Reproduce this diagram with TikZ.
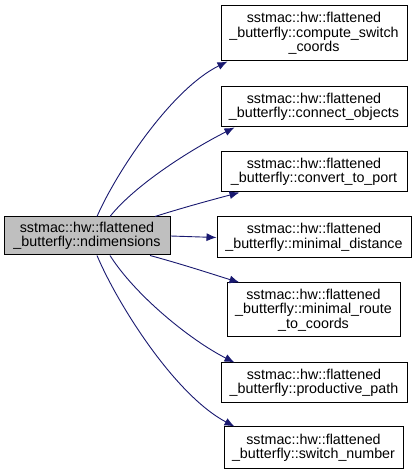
\documentclass[tikz,border=0pt]{standalone}
\usepackage{fontspec}
\setmainfont{Liberation Sans}
\usetikzlibrary{arrows.meta, positioning, calc}

\begin{document}
\begin{tikzpicture}[x=1pt, y=1pt,
    func/.style={rectangle, draw, line width=1pt, inner sep=0pt, align=center, font=\fontsize{14.3}{14.5}\selectfont},
    arrow/.style={-{Latex[length=10pt,width=8pt]}, line width=0.9pt, draw={rgb,255:red,25;green,25;blue,112}}]
    \useasboundingbox (0,0) rectangle (416,475);
    \node [func, fill={rgb,255:red,191;green,191;blue,191}, minimum width=166, minimum height=38] (nd) at (87,239) {sstmac::hw::flattened\\\_butterfly::ndimensions};
    \node [func, minimum width=186, minimum height=55] (csc) at (314,441.5) {sstmac::hw::flattened\\\_butterfly::compute\_switch\\\_coords};
    \node [func, minimum width=186, minimum height=40] (co) at (314,368) {sstmac::hw::flattened\\\_butterfly::connect\_objects};
    \node [func, minimum width=186, minimum height=40] (ctp) at (314,303) {sstmac::hw::flattened\\\_butterfly::convert\_to\_port};
    \node [func, minimum width=194, minimum height=41] (md) at (314,237.5) {sstmac::hw::flattened\\\_butterfly::minimal\_distance};
    \node [func, minimum width=173, minimum height=54] (mrc) at (313.5,165) {sstmac::hw::flattened\\\_butterfly::minimal\_route\\\_to\_coords};
    \node [func, minimum width=186, minimum height=40] (pp) at (314,92) {sstmac::hw::flattened\\\_butterfly::productive\_path};
    \node [func, minimum width=179, minimum height=42] (sn) at (313.5,27) {sstmac::hw::flattened\\\_butterfly::switch\_number};
    \draw [arrow] ([xshift=10]nd.north) .. controls (115,300) and (170,385) .. ([xshift=7]csc.south west);
    \draw [arrow] ([xshift=23]nd.north) .. controls (135,290) and (190,325) .. ([xshift=14]co.south west);
    \draw [arrow] ([xshift=68]nd.north) .. controls (185,268) and (215,276) .. ([xshift=19]ctp.south west);
    \draw [arrow] (nd.east) -- (md.west);
    \draw [arrow] ([xshift=63]nd.south) .. controls (185,210) and (215,200) .. ([xshift=13]mrc.north west);
    \draw [arrow] ([xshift=23]nd.south) .. controls (135,180) and (190,135) .. ([xshift=14]pp.north west);
    \draw [arrow] ([xshift=10]nd.south) .. controls (118,170) and (175,80) .. ([xshift=11]sn.north west);
\end{tikzpicture}
\end{document}
